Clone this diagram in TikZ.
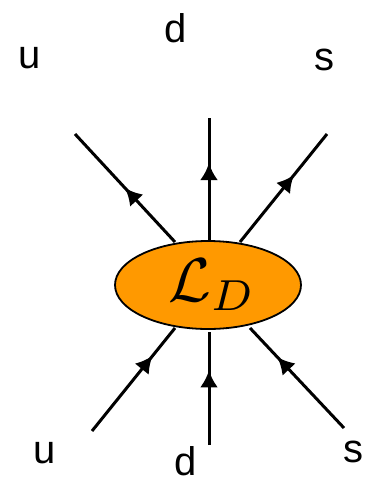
\documentclass[tikz,border=0pt]{standalone}
\usepackage{fontspec}
\setmainfont{Liberation Sans}
\usepackage{amsmath,amssymb}
\usepackage{xcolor}
\usetikzlibrary{arrows.meta,decorations.markings,shapes.geometric}
\definecolor{Ink}{HTML}{000000}
\definecolor{Blob}{HTML}{FF9900}

\begin{document}
\begin{tikzpicture}[
  x=1pt,y=-1pt,
  vertex/.style={draw=Ink, fill=Blob, ellipse, line width=1.8pt, minimum width=186pt, minimum height=88pt, inner sep=0pt},
  quark/.style={font=\fontsize{40}{40}\selectfont, text=Ink, inner sep=0pt},
  fermion/.style={line width=3pt, draw=Ink, postaction={decorate}, decoration={markings, mark=at position #1 with {\arrow{Latex[length=17pt,width=18pt]}}}},
  fermion/.default=0.5
]
  \useasboundingbox (0,0) rectangle (366,483);

  % outgoing ends
  \coordinate (uout) at (75,134);
  \coordinate (dout) at (209,118);
  \coordinate (sout) at (327,134);
  % incoming ends
  \coordinate (uin) at (92,431);
  \coordinate (din) at (209,445);
  \coordinate (sin) at (344,428);

  \draw[fermion=0.50] (175,242) -- (uout);
  \draw[fermion=0.63] (209,240) -- (dout);
  \draw[fermion=0.62] (240,242) -- (sout);
  \draw[fermion=0.73] (uin) -- (175,328);
  \draw[fermion=0.66] (din) -- (209,332);
  \draw[fermion=0.71] (sin) -- (250,328);

  \node[vertex] (blob) at (208,285) {\hspace*{8pt}\scalebox{6.2}{$\mathcal{L}_D$}};

  \node[quark] (ulabel) at (30,58) {u};
  \node[quark] (dlabel) at (176,28) {d};
  \node[quark] (slabel) at (324,60) {s};
  \node[quark] (uinlabel) at (45,453) {u};
  \node[quark] (dinlabel) at (186,461) {d};
  \node[quark] (sinlabel) at (353,452) {s};
\end{tikzpicture}
\end{document}
